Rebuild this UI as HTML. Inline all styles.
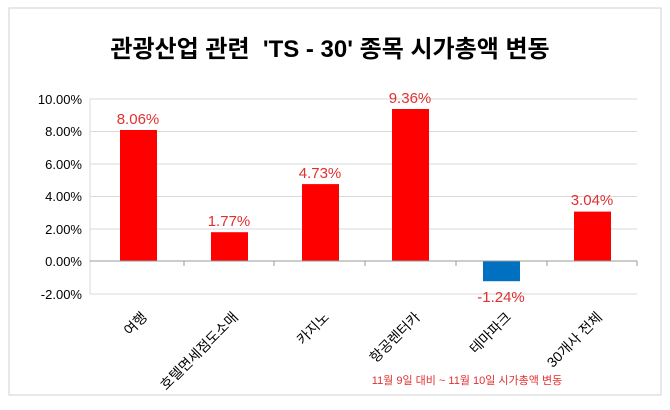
<!DOCTYPE html>
<html><head><meta charset="utf-8"><style>
body{margin:0;background:#fff;}
</style></head><body>
<svg width="670" height="405" xmlns="http://www.w3.org/2000/svg" font-family="'Liberation Sans','Noto Sans CJK KR',sans-serif">
<rect x="9" y="8" width="652" height="387" fill="#fff" stroke="#d0d0d0" stroke-width="1"/>
<text x="330" y="57" text-anchor="middle" font-size="24" font-weight="bold" fill="#000" xml:space="preserve">관광산업 관련  'TS - 30' 종목 시가총액 변동</text>
<g stroke="#d9d9d9" stroke-width="1">
<line x1="90" y1="99" x2="637" y2="99"/>
<line x1="90" y1="131.5" x2="637" y2="131.5"/>
<line x1="90" y1="164" x2="637" y2="164"/>
<line x1="90" y1="196.5" x2="637" y2="196.5"/>
<line x1="90" y1="229" x2="637" y2="229"/>
<line x1="90" y1="294" x2="637" y2="294"/>
<line x1="90" y1="99" x2="90" y2="294"/>
</g>
<g font-size="13" text-anchor="end" fill="#000">
<text x="82" y="104">10.00%</text>
<text x="82" y="136">8.00%</text>
<text x="82" y="169">6.00%</text>
<text x="82" y="201">4.00%</text>
<text x="82" y="234">2.00%</text>
<text x="82" y="266">0.00%</text>
<text x="82" y="299">-2.00%</text>
</g>
<g fill="#ff0000">
<rect x="120" y="130" width="37" height="131"/>
<rect x="211" y="232.2" width="37" height="28.8"/>
<rect x="302" y="184.1" width="37" height="76.9"/>
<rect x="392" y="109" width="37" height="152"/>
<rect x="574" y="211.6" width="37" height="49.4"/>
</g>
<rect x="483" y="261" width="37" height="20.2" fill="#0070c0"/>
<line x1="90" y1="261" x2="637" y2="261" stroke="#999"/>
<g stroke="#999"><line x1="184" y1="261" x2="184" y2="266"/><line x1="274" y1="261" x2="274" y2="266"/><line x1="365" y1="261" x2="365" y2="266"/><line x1="456" y1="261" x2="456" y2="266"/><line x1="547" y1="261" x2="547" y2="266"/><line x1="637" y1="261" x2="637" y2="266"/></g>
<g font-size="15" fill="#e03030" text-anchor="middle">
<text x="138" y="124">8.06%</text>
<text x="229" y="226">1.77%</text>
<text x="320" y="178">4.73%</text>
<text x="410" y="103">9.36%</text>
<text x="501" y="302">-1.24%</text>
<text x="592" y="205">3.04%</text>
</g>
<g font-size="14" fill="#000" text-anchor="end">
<text transform="translate(148,318) rotate(-45)">여행</text>
<text transform="translate(239,318) rotate(-45)">호텔면세점도소매</text>
<text transform="translate(330,318) rotate(-45)">카지노</text>
<text transform="translate(421,318) rotate(-45)">항공렌터카</text>
<text transform="translate(512,318) rotate(-45)">테마파크</text>
<text transform="translate(603,318) rotate(-45)">30개사 전체</text>
</g>
<text x="467" y="384" text-anchor="middle" font-size="11" fill="#e03030">11월 9일 대비 ~ 11월 10일 시가총액 변동</text>
</svg>
</body></html>
